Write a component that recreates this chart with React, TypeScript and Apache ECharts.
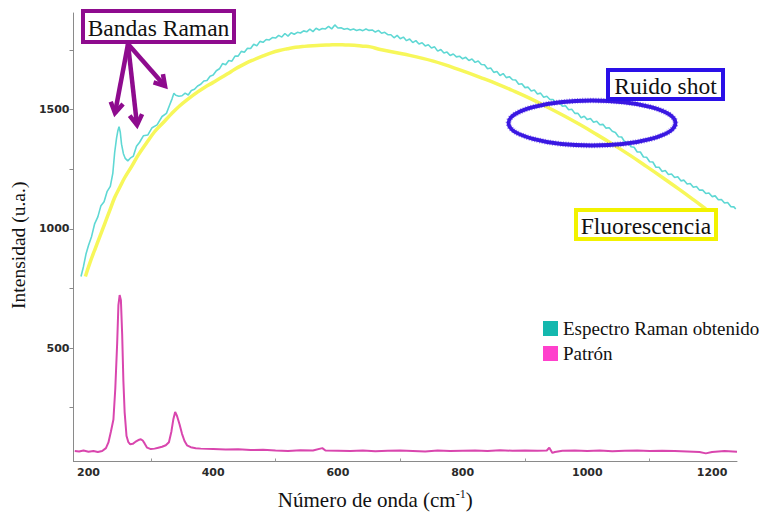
import React, { useEffect, useRef } from "react";
import * as echarts from "echarts";

// ---- axis ticks / labels ----
const xLabelValues = [200, 400, 600, 800, 1000, 1200];
const xTickValues = [300, 500, 700, 900, 1100];
const yLabelValues = [500, 1000, 1500];
const yTickValues = [250, 500, 750, 1000, 1250, 1500, 1750];

// ---- Espectro Raman obtenido (cyan) ----
const espectroX = [
  188, 192, 196, 200, 205, 210, 215, 220, 225, 230, 235, 239, 242, 245, 247, 249, 251, 253, 256, 259,
  263, 267, 272, 277, 282, 288, 295, 302, 310, 318, 325, 330, 334, 337, 340, 345,
  350, 355, 360, 365, 370, 375, 380, 385, 390, 395, 400, 405, 410, 415, 420, 425, 430, 435, 440, 445,
  450, 455, 460, 465, 470, 475, 480, 485, 490, 495, 500, 505, 510, 515, 520, 525, 530, 535, 540, 545,
  550, 555, 560, 565, 570, 575, 580, 585, 590, 595, 600, 605, 610, 615, 620, 625, 630, 635, 640, 645,
  650, 655, 660, 665, 670, 675, 680, 685, 690, 695, 700, 705, 710, 715, 720, 725, 730, 735, 740, 745,
  750, 755, 760, 765, 770, 775, 780, 785, 790, 795, 800, 805, 810, 815, 820, 825, 830, 835, 840, 845,
  850, 855, 860, 865, 870, 875, 880, 885, 890, 895, 900, 905, 910, 915, 920, 925, 930, 935, 940, 945,
  950, 955, 960, 965, 970, 975, 980, 985, 990, 995, 1000, 1005, 1010, 1015, 1020, 1025, 1030, 1035, 1040, 1045,
  1050, 1055, 1060, 1065, 1070, 1075, 1080, 1085, 1090, 1095, 1100, 1105, 1110, 1115, 1120, 1125, 1130, 1135, 1140, 1145,
  1150, 1155, 1160, 1165, 1170, 1175, 1180, 1185, 1190, 1195, 1200, 1205, 1210, 1215, 1220, 1225, 1230, 1235, 1238,
];
const espectroY = [
  800, 842, 894, 930, 968, 1022, 1050, 1097, 1113, 1157, 1178, 1232, 1320, 1380, 1410, 1428, 1405, 1355, 1315, 1295,
  1285, 1296, 1305, 1346, 1363, 1390, 1393, 1424, 1436, 1471, 1484, 1518, 1545, 1568, 1560, 1556,
  1558, 1569, 1561, 1580, 1585, 1599, 1606, 1620, 1622, 1640, 1645, 1663, 1671, 1693, 1688, 1706, 1703, 1724, 1724, 1744,
  1740, 1757, 1756, 1774, 1768, 1786, 1782, 1794, 1792, 1802, 1800, 1811, 1804, 1819, 1808, 1822, 1816, 1824, 1821, 1830,
  1826, 1837, 1827, 1841, 1834, 1840, 1838, 1849, 1838, 1855, 1842, 1843, 1837, 1840, 1834, 1838, 1832, 1836, 1831, 1838,
  1832, 1834, 1825, 1832, 1820, 1824, 1814, 1814, 1801, 1811, 1797, 1804, 1789, 1796, 1781, 1789, 1775, 1780, 1767, 1772,
  1758, 1763, 1745, 1752, 1737, 1741, 1727, 1733, 1721, 1724, 1713, 1719, 1706, 1712, 1698, 1704, 1689, 1688, 1671, 1674,
  1656, 1660, 1643, 1651, 1634, 1638, 1625, 1624, 1606, 1608, 1592, 1594, 1578, 1582, 1565, 1569, 1552, 1556, 1542, 1542,
  1526, 1530, 1514, 1516, 1499, 1501, 1484, 1484, 1466, 1472, 1458, 1463, 1447, 1451, 1436, 1438, 1422, 1424, 1409, 1404,
  1386, 1385, 1364, 1364, 1344, 1342, 1322, 1322, 1301, 1300, 1281, 1280, 1258, 1258, 1240, 1244, 1228, 1230, 1215, 1218,
  1201, 1204, 1188, 1190, 1174, 1177, 1162, 1162, 1148, 1150, 1135, 1138, 1122, 1123, 1108, 1110, 1093, 1092, 1083,
];

// ---- Fluorescencia (yellow fit) ----
const fluorX = [
  195, 202, 210, 218, 226, 234, 242, 250, 258, 270, 280, 293, 306, 320, 333, 346, 360, 373, 386, 400,
  413, 429, 439, 452, 466, 480, 493, 506, 519, 532, 546, 560, 573, 586, 599, 612, 626, 640, 652, 668,
  705, 753, 800, 828, 855, 881, 908, 934, 961, 988, 1014, 1041, 1068, 1094, 1121, 1148, 1170, 1190,
];
const fluorY = [
  800, 855, 911, 966, 1021, 1076, 1131, 1173, 1214, 1265, 1310, 1360, 1407, 1446, 1482, 1515, 1545, 1570, 1593, 1614,
  1634, 1660, 1676, 1694, 1710, 1725, 1738, 1748, 1755, 1761, 1765, 1768, 1770, 1771, 1772, 1771, 1770, 1766, 1763, 1752,
  1733, 1703, 1662, 1635, 1608, 1579, 1547, 1513, 1476, 1437, 1397, 1354, 1309, 1263, 1214, 1164, 1122, 1083,
];

// ---- Patrón (magenta) ----
const patronX = [
  178, 185, 192, 200, 208, 215, 222, 228, 232, 236, 240, 243, 246, 248, 250, 252, 254, 256, 258, 261,
  264, 267, 271, 275, 280, 284, 287, 290, 294, 300, 306, 312, 318, 324, 329, 333, 336, 339, 342, 346,
  350, 354, 358, 364, 372, 380, 400, 420, 440, 460, 480, 500, 520, 540, 560, 575, 580, 600, 620, 640,
  660, 680, 700, 720, 740, 760, 780, 800, 820, 840, 860, 880, 900, 920, 935, 939, 944, 948, 960, 980,
  1000, 1020, 1040, 1060, 1080, 1100, 1120, 1140, 1160, 1180, 1190, 1200, 1220, 1240,
];
const patronY = [
  68, 66, 70, 65, 68, 64, 68, 80, 104, 150, 200, 330, 520, 680, 722, 700, 560, 360, 230, 131,
  105, 96, 98, 106, 114, 117, 112, 100, 82, 76, 78, 82, 86, 92, 105, 150, 200, 232, 215, 180,
  140, 110, 92, 84, 80, 78, 76, 74, 75, 72, 73, 70, 68, 71, 70, 80, 70, 69, 68, 70,
  67, 69, 70, 68, 66, 70, 68, 69, 70, 68, 71, 69, 70, 69, 70, 82, 60, 64, 69, 70,
  68, 70, 67, 69, 70, 68, 69, 68, 66, 64, 58, 64, 68, 65,
];

const toPairs = (xs: number[], ys: number[]) => xs.map((x, i) => [x, ys[i]]);

const SERIF = "Liberation Serif";
const PURPLE = "#8e0b8e";

function arrow(x1: number, y1: number, x2: number, y2: number) {
  const dx = x2 - x1;
  const dy = y2 - y1;
  const len = Math.sqrt(dx * dx + dy * dy);
  const ux = dx / len;
  const uy = dy / len;
  const hl = 12;
  const a = 0.55;
  const w1 = [x2 - hl * (ux * Math.cos(a) - uy * Math.sin(a)), y2 - hl * (uy * Math.cos(a) + ux * Math.sin(a))];
  const w2 = [x2 - hl * (ux * Math.cos(-a) - uy * Math.sin(-a)), y2 - hl * (uy * Math.cos(-a) + ux * Math.sin(-a))];
  return [
    {
      type: "line",
      shape: { x1, y1, x2, y2 },
      style: { stroke: PURPLE, lineWidth: 4.5 },
      z: 100,
    },
    {
      type: "polyline",
      shape: { points: [w1, [x2, y2], w2] },
      style: { stroke: PURPLE, lineWidth: 4.5, fill: null },
      z: 100,
    },
  ];
}

function labelBox(x: number, y: number, w: number, h: number, color: string, text: string, lw: number) {
  return [
    {
      type: "rect",
      shape: { x, y, width: w, height: h },
      style: { fill: "#ffffff", stroke: color, lineWidth: lw },
      z: 110,
    },
    {
      type: "text",
      x: x + w / 2,
      y: y + h / 2 + 1,
      style: {
        text,
        fontFamily: SERIF,
        fontSize: 23.5,
        fill: "#111",
        align: "center",
        verticalAlign: "middle",
        textAlign: "center",
        textVerticalAlign: "middle",
      },
      z: 111,
    },
  ];
}

export default function App() {
  const ref = useRef<HTMLDivElement>(null);

  useEffect(() => {
    if (!ref.current) return;
    const chart = echarts.init(ref.current, undefined, { renderer: "svg" });

    const option: any = {
      animation: false,
      backgroundColor: "#ffffff",
      grid: { left: 72, right: 22, top: 13, bottom: 47, containLabel: false },
      legend: {
        orient: "vertical",
        left: 543,
        top: 319,
        padding: 0,
        itemWidth: 15,
        itemHeight: 15,
        itemGap: 6,
        icon: "rect",
        data: ["Espectro Raman obtenido", "Patrón"],
        textStyle: { fontFamily: SERIF, fontSize: 19, color: "#111" },
      },
      xAxis: {
        type: "value",
        min: 176,
        max: 1240,
        name: "{a|Número de onda (cm}{s|-1}{a|)}",
        nameLocation: "middle",
        nameGap: 26,
        nameTextStyle: {
          fontFamily: SERIF,
          fontSize: 21,
          color: "#111",
          padding: [0, 60, 0, 0],
          rich: {
            a: { fontFamily: SERIF, fontSize: 21, color: "#111", lineHeight: 24 },
            s: { fontFamily: SERIF, fontSize: 12, color: "#111", verticalAlign: "top", lineHeight: 24 },
          },
        },
        axisLine: { show: true, lineStyle: { color: "#8a8a8a", width: 1 } },
        axisTick: {
          show: true,
          inside: true,
          length: 3,
          customValues: xTickValues,
          lineStyle: { color: "#999" },
        },
        axisLabel: {
          customValues: xLabelValues,
          formatter: (v: number) => String(v),
          margin: 5,
          fontFamily: "DejaVu Sans",
          fontWeight: "bold",
          fontSize: 11,
          color: "#2a2a2a",
        },
        splitLine: { show: false },
      },
      yAxis: {
        type: "value",
        min: 24,
        max: 1905,
        name: "Intensidad (u.a.)",
        nameLocation: "middle",
        nameGap: 45,
        nameTextStyle: { fontFamily: SERIF, fontSize: 19.5, color: "#111", padding: [0, 16, 0, 0] },
        axisLine: { show: true, lineStyle: { color: "#8a8a8a", width: 1 } },
        axisTick: {
          show: true,
          length: 4,
          customValues: yTickValues,
          lineStyle: { color: "#8a8a8a" },
        },
        axisLabel: {
          customValues: yLabelValues,
          formatter: (v: number) => String(v),
          margin: 4,
          fontFamily: "DejaVu Sans",
          fontWeight: "bold",
          fontSize: 11,
          color: "#2a2a2a",
        },
        splitLine: { show: false },
      },
      series: [
        {
          name: "Fluorescencia",
          type: "line",
          data: toPairs(fluorX, fluorY),
          showSymbol: false,
          smooth: 0.4,
          lineStyle: { color: "#f7f75a", width: 3.5 },
          itemStyle: { color: "#f7f75a" },
          z: 2,
        },
        {
          name: "Espectro Raman obtenido",
          type: "line",
          data: toPairs(espectroX, espectroY),
          showSymbol: false,
          lineStyle: { color: "#5fd8d4", width: 1.6 },
          itemStyle: { color: "#14b8ae" },
          z: 3,
        },
        {
          name: "Patrón",
          type: "line",
          data: toPairs(patronX, patronY),
          showSymbol: false,
          lineStyle: { color: "#d946ae", width: 2 },
          itemStyle: { color: "#ff40cc" },
          z: 3,
        },
      ],
      graphic: [
        {
          type: "ellipse",
          shape: { cx: 592, cy: 123, rx: 83.5, ry: 22.5 },
          style: { fill: null, stroke: "#3a18e2", lineWidth: 3.8 },
          z: 105,
        },
        {
          type: "ellipse",
          shape: { cx: 592, cy: 123, rx: 83.5, ry: 22.5 },
          style: { fill: null, stroke: "#3a18e2", lineWidth: 5.6, lineDash: [1, 1.6], opacity: 0.55 },
          z: 105,
        },
        ...arrow(128, 44, 115, 113),
        ...arrow(128, 44, 137, 125),
        ...arrow(128, 44, 165, 86),
        ...labelBox(83, 11, 151, 31, PURPLE, "Bandas Raman", 4),
        ...labelBox(608, 70, 115, 29, "#2a10e8", "Ruido shot", 4),
        ...labelBox(576, 210, 140, 29, "#f2f200", "Fluorescencia", 4),
      ],
    };

    chart.setOption(option);
    return () => {
      chart.dispose();
    };
  }, []);

  return (
    <div
      ref={ref}
      style={{ position: "fixed", left: 0, top: 0, width: 759, height: 515, background: "#fff" }}
    />
  );
}
